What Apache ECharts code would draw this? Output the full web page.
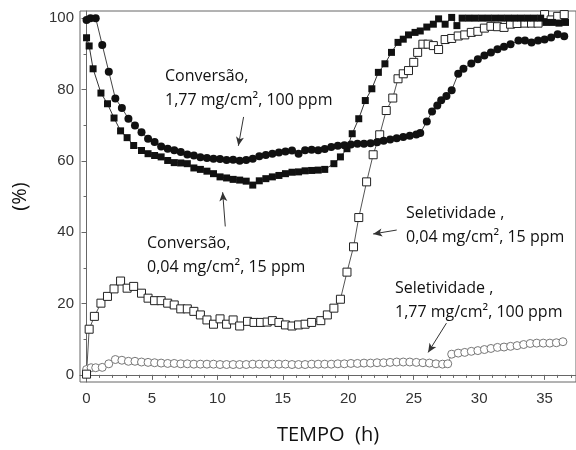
<!DOCTYPE html>
<html>
<head>
<meta charset="utf-8">
<script src="https://cdn.jsdelivr.net/npm/echarts@6/dist/echarts.min.js"></script>
<style>
  html, body { margin: 0; padding: 0; background: #fff; }
  #main { width: 576px; height: 450px; }
</style>
</head>
<body>
<div id="main"></div>
<script>
// Conversão, 1,77 mg/cm2, 100 ppm (círculos cheios)
var conv177T = [0,0.3,0.7,1.2,1.7,2.2,2.7,3.2,3.7,4.2,4.7,5.2,5.7,6.2,6.7,7.2,7.7,8.2,8.7,9.2,9.7,10.2,10.7,11.2,11.7,12.2,12.7,13.2,13.7,14.2,14.7,15.2,15.7,16.2,16.7,17.2,17.7,18.2,18.7,19.2,19.7,20.2,20.7,21.2,21.7,22.2,22.7,23.2,23.7,24.2,24.7,25.2,25.5,26,26.4,26.8,27.1,27.5,27.9,28.4,28.8,29.4,29.9,30.4,30.9,31.4,31.9,32.4,33,33.5,34,34.5,35,35.5,36,36.5];
var conv177 = [99.5,100,100,92.5,85,77.5,74.8,71.8,69.9,68,66.2,65.3,64,63.4,63,62.5,61.8,61.5,61,60.8,60.6,60.5,60.2,60.3,60,60.2,60.6,61.3,61.6,62,62.3,62.6,62.9,62,63,63.1,63,63.3,63.9,64.2,64.4,64.6,64.8,64.8,64.9,65.2,65.6,66,66.3,66.7,67,67.4,67.8,71,73.8,75.5,77,78.2,79.8,84.4,85.8,87.3,88.5,89.5,90.4,91.3,92,92.7,93.7,93.7,93.2,93.7,94,94.6,95.5,94.9];

// Conversão, 0,04 mg/cm2, 15 ppm (quadrados cheios)
var conv004T = [0,0.2,0.5,1.1,1.6,2.1,2.6,3.1,3.6,4.2,4.7,5.2,5.7,6.2,6.7,7.2,7.7,8.2,8.7,9.2,9.7,10.2,10.7,11.2,11.7,12.2,12.7,13.2,13.7,14.2,14.7,15.2,15.7,16.2,16.7,17.2,17.7,18.2,18.9,19.4,19.9,20.3,20.8,21.3,21.8,22.3,22.8,23.3,23.8,24.2,24.6,25.1,25.5,26,26.5,26.9,27.4,27.9,28.3,28.7,29.2,29.7,30.2,30.7,31.2,31.7,32.2,32.7,33.2,33.7,34.2,34.7,35.1,35.6,36.1,36.6];
var conv004 = [94.5,92.2,85.8,79,76,72,68.4,66.5,64.3,62.9,62,61.5,61.1,60.1,59.5,59.4,59.2,58,57.6,57.1,56.4,55.5,55.2,54.8,54.6,54.3,53.2,54.4,55,55.5,55.9,56.4,56.8,56.9,57.2,57.3,57.4,57.6,59.2,61.1,63.4,67.6,71.8,76.9,80.2,84.8,87.2,90.4,93.2,94.1,95.3,96,96.4,97.5,98.3,99.8,98.3,100.2,97.9,100,100,100,100,100,100,100,100,100,100,100,100,100,98.8,98.8,98.6,98.8];

// Seletividade, 0,04 mg/cm2, 15 ppm (quadrados abertos)
var sel004T = [0,0.2,0.6,1.1,1.6,2.1,2.6,3.1,3.6,4.2,4.7,5.2,5.7,6.2,6.7,7.2,7.7,8.2,8.7,9.2,9.7,10.2,10.7,11.2,11.7,12.3,12.8,13.3,13.8,14.2,14.7,15.2,15.7,16.2,16.7,17.2,17.9,18.4,18.9,19.4,19.9,20.4,20.8,21.4,21.9,22.4,22.9,23.4,23.8,24.2,24.6,25,25.3,25.7,26.1,26.5,26.9,27.4,27.9,28.4,28.9,29.4,29.9,30.4,30.9,31.4,31.9,32.4,32.9,33.5,34,34.5,35,35.5,36,36.5];
var sel004 = [0.2,12.8,16.4,20.1,22,24.1,26.3,24.3,24.8,22.9,21.5,20.8,20.8,20.1,19.6,18.5,18.5,17.8,16.8,15.4,14.2,15.7,14.2,15.4,13.7,15,14.7,14.7,14.8,15.2,14.7,14,13.7,14,14.2,14.7,15.2,16.8,18.7,21.2,28.8,35.9,44.1,54.1,61.7,67.3,74.1,77.6,83,84.4,85.3,87.6,90.4,92.7,92.7,92.3,91.2,94,94.3,95,95.3,96,96.3,97.2,97.7,97.6,97.4,98.3,98.5,98.6,98.6,98.6,101,99.5,100.5,101];

// Seletividade, 1,77 mg/cm2, 100 ppm (círculos abertos)
var sel177T = [0,0.35,0.7,1.2,1.7,2.2,2.7,3.2,3.7,4.2,4.7,5.2,5.7,6.2,6.7,7.2,7.7,8.2,8.7,9.2,9.7,10.2,10.7,11.2,11.7,12.2,12.7,13.2,13.7,14.2,14.7,15.2,15.7,16.2,16.7,17.2,17.7,18.2,18.7,19.2,19.7,20.2,20.7,21.2,21.7,22.2,22.7,23.2,23.7,24.2,24.7,25.2,25.7,26.2,26.7,27.2,27.6,27.9,28.4,28.9,29.4,29.9,30.4,30.9,31.4,31.9,32.4,32.9,33.4,33.9,34.4,34.9,35.4,35.9,36.4];
var sel177 = [1.5,2,2,2.1,3.1,4.3,4.1,3.8,3.8,3.6,3.5,3.4,3.3,3.2,3.2,3.1,3.1,3,3,3,3,2.9,2.9,2.9,2.9,2.9,3,3,3,3,3,3,2.9,2.9,2.9,3,3,3,3,3.1,3.1,3.2,3.2,3.3,3.3,3.4,3.4,3.5,3.6,3.6,3.6,3.5,3.4,3.3,3.1,3,3.1,5.8,6.1,6.3,6.6,6.8,7.1,7.4,7.7,7.8,8,8.2,8.5,8.8,8.9,8.9,8.9,9,9.3];

// ticks
var xMajor = [0,5,10,15,20,25,30,35];
var xMinor = [1,2,3,4,6,7,8,9,11,12,13,14,16,17,18,19,21,22,23,24,26,27,28,29,31,32,33,34,36,37];
var yMajor = [0,20,40,60,80,100];
var yMinor = [10,30,50,70,90];

function pares(t, v) {
    return t.map(function (x, i) { return [x, v[i]]; });
}

var eixoCor = '#666';
var textoFonte = '"Open Sans", "Noto Sans", sans-serif';

var myChart = echarts.init(document.getElementById('main'));

//seta das anotações, em coordenadas dos dados
function seta(p1, p2) {
    return [{ coord: p1, symbol: 'none' }, { coord: p2, symbol: 'arrow', symbolSize: [6, 9] }];
}

var option = {
    animation: false,
    backgroundColor: '#fff',
    grid: { left: 80, right: -2, top: 11, bottom: 65, show: true, borderColor: eixoCor, borderWidth: 1 },
    xAxis: [
        {
            type: 'value', min: -0.5, max: 37.4,
            axisLine: { lineStyle: { color: eixoCor } },
            axisTick: { customValues: xMajor, length: 5, lineStyle: { color: eixoCor } },
            axisLabel: { customValues: xMajor, color: '#333', fontSize: 15, fontFamily: 'Liberation Sans', margin: 9 },
            splitLine: { show: false },
            name: 'TEMPO  (h)', nameLocation: 'middle', nameGap: 43,
            nameTextStyle: { fontSize: 20, color: '#111', fontFamily: textoFonte }
        },
        {
            type: 'value', min: -0.5, max: 37.4, position: 'bottom',
            axisLine: { show: false },
            axisTick: { customValues: xMinor, length: 3, lineStyle: { color: eixoCor } },
            axisLabel: { show: false },
            splitLine: { show: false }
        }
    ],
    yAxis: [
        {
            type: 'value', min: -2, max: 102,
            axisLine: { show: true, lineStyle: { color: eixoCor } },
            axisTick: { show: true, customValues: yMajor, length: 5, lineStyle: { color: eixoCor } },
            axisLabel: { customValues: yMajor, color: '#333', fontSize: 15, fontFamily: 'Liberation Sans', margin: 6 },
            splitLine: { show: false },
            name: '(%)', nameLocation: 'middle', nameGap: 50, nameRotate: 90,
            nameTextStyle: { fontSize: 20, color: '#111', fontFamily: textoFonte }
        },
        {
            type: 'value', min: -2, max: 102, position: 'left',
            axisLine: { show: false },
            axisTick: { show: true, customValues: yMinor, length: 3, lineStyle: { color: eixoCor } },
            axisLabel: { show: false },
            splitLine: { show: false }
        }
    ],
    series: [
        {
            name: 'sel177', type: 'line', data: pares(sel177T, sel177),
            symbol: 'circle', symbolSize: 8,
            itemStyle: { color: '#fff', borderColor: '#777', borderWidth: 1 },
            lineStyle: { color: '#888', width: 1 },
            markLine: {
                silent: true, label: { show: false },
                lineStyle: { color: '#333', width: 1, type: 'solid' },
                data: [seta([27.5, 14.5], [26.1, 6.3])]
            }
        },
        {
            name: 'sel004', type: 'line', data: pares(sel004T, sel004),
            symbol: 'rect', symbolSize: 8,
            itemStyle: { color: '#fff', borderColor: '#222', borderWidth: 1 },
            lineStyle: { color: '#555', width: 1 },
            markLine: {
                silent: true, label: { show: false },
                lineStyle: { color: '#333', width: 1, type: 'solid' },
                data: [seta([23.7, 40.6], [21.9, 39.5])]
            }
        },
        {
            name: 'conv004', type: 'line', data: pares(conv004T, conv004),
            symbol: 'rect', symbolSize: 7,
            itemStyle: { color: '#111' },
            lineStyle: { color: '#333', width: 1 },
            markLine: {
                silent: true, label: { show: false },
                lineStyle: { color: '#333', width: 1, type: 'solid' },
                data: [seta([10.6, 41.6], [10.4, 51.2])]
            }
        },
        {
            name: 'conv177', type: 'line', data: pares(conv177T, conv177),
            symbol: 'circle', symbolSize: 8,
            itemStyle: { color: '#111' },
            lineStyle: { color: '#444', width: 1 },
            markLine: {
                silent: true, label: { show: false },
                lineStyle: { color: '#333', width: 1, type: 'solid' },
                data: [seta([12.0, 72.3], [11.6, 64.2])]
            }
        }
    ],
    graphic: [
        { type: 'text', left: 165, top: 64, style: { text: 'Conversão,\n1,77 mg/cm², 100 ppm', font: '16px ' + textoFonte, lineHeight: 24, fill: '#111' } },
        { type: 'text', left: 147, top: 231, style: { text: 'Conversão,\n0,04 mg/cm², 15 ppm', font: '16px ' + textoFonte, lineHeight: 24, fill: '#111' } },
        { type: 'text', left: 406, top: 201, style: { text: 'Seletividade ,\n0,04 mg/cm², 15 ppm', font: '16px ' + textoFonte, lineHeight: 24, fill: '#111' } },
        { type: 'text', left: 395, top: 276, style: { text: 'Seletividade ,\n1,77 mg/cm², 100 ppm', font: '16px ' + textoFonte, lineHeight: 24, fill: '#111' } }
    ]
};
myChart.setOption(option);
</script>
</body>
</html>
